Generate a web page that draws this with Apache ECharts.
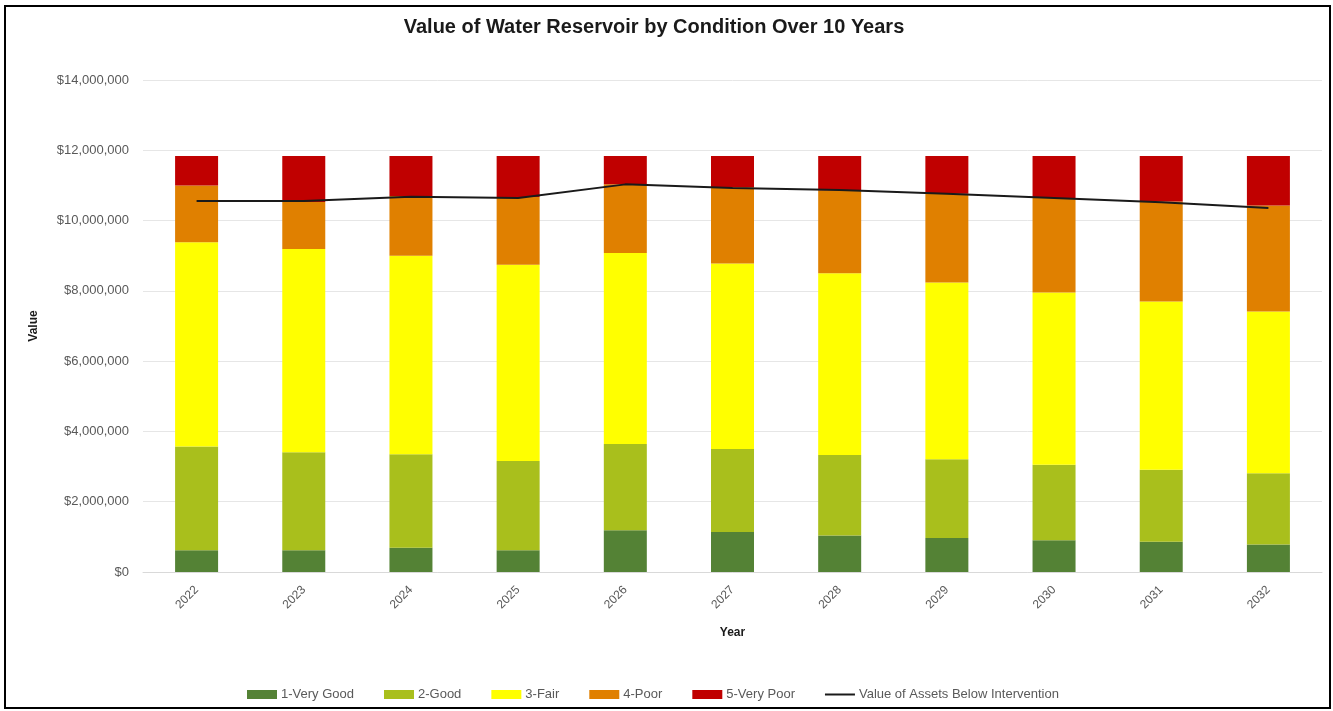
<!DOCTYPE html>
<html>
<head>
<meta charset="utf-8">
<script src="https://cdn.jsdelivr.net/npm/echarts@6/dist/echarts.min.js"></script>
<style>
  html, body { margin: 0; padding: 0; background: #fff; }
  #chart { width: 1333px; height: 711px; }
</style>
</head>
<body>
<div id="chart"></div>
<script>
// data (dollars)
const years = ['2022', '2023', '2024', '2025', '2026', '2027', '2028', '2029', '2030', '2031', '2032'];
const veryGood = [620000, 620000, 690000, 620000, 1190000, 1140000, 1040000, 970000, 905000, 860000, 780000];
const good = [2950000, 2790000, 2660000, 2540000, 2450000, 2360000, 2290000, 2240000, 2145000, 2050000, 2030000];
const fair = [5810000, 5780000, 5650000, 5580000, 5440000, 5280000, 5170000, 5030000, 4900000, 4790000, 4600000];
const poor = [1620000, 1340000, 1700000, 1930000, 1950000, 2170000, 2360000, 2520000, 2690000, 2840000, 3020000];
const veryPoor = [840000, 1310000, 1140000, 1170000, 810000, 890000, 980000, 1080000, 1200000, 1300000, 1410000];
const belowIntervention = [10560000, 10560000, 10680000, 10640000, 11030000, 10930000, 10870000, 10760000, 10640000, 10520000, 10360000];

const font = "'Liberation Sans', sans-serif";
const labelColor = '#595959';

const chart = echarts.init(document.getElementById('chart'));

function barSeries(name, data, color) {
  return {
    name: name,
    type: 'bar',
    stack: 'total',
    barWidth: 43,
    data: data,
    itemStyle: { color: color },
    emphasis: { disabled: true }
  };
}

chart.setOption({
  animation: false,
  textStyle: { fontFamily: font },
  title: {
    text: 'Value of Water Reservoir by Condition Over 10 Years',
    left: 649,
    textAlign: 'center',
    top: 12,
    textStyle: { fontSize: 20, fontWeight: 'bold', color: '#1a1a1a', fontFamily: font }
  },
  graphic: [{
    type: 'rect',
    shape: { x: 5, y: 6, width: 1325, height: 702 },
    style: { fill: 'none', stroke: '#000', lineWidth: 2 },
    silent: true,
    z: -1
  }],
  legend: {
    top: 683,
    left: 242,
    itemWidth: 30,
    itemHeight: 9,
    itemGap: 30,
    textStyle: { fontSize: 13, color: labelColor, fontFamily: font, padding: [0, 0, 0, -1] },
    data: [
      { name: '1-Very Good', icon: 'rect' },
      { name: '2-Good', icon: 'rect' },
      { name: '3-Fair', icon: 'rect' },
      { name: '4-Poor', icon: 'rect' },
      { name: '5-Very Poor', icon: 'rect' },
      { name: 'Value of Assets Below Intervention', icon: 'path://M0,0 L30,0 L30,2 L0,2 Z' }
    ]
  },
  grid: { left: 143, right: 11, top: 80, bottom: 139 },
  xAxis: {
    type: 'category',
    data: years,
    name: 'Year',
    nameLocation: 'middle',
    nameGap: 55,
    nameTextStyle: { fontSize: 12, fontWeight: 'bold', color: '#1a1a1a', fontFamily: font },
    axisTick: { show: false },
    axisLine: { lineStyle: { color: '#d9d9d9' } },
    axisLabel: { rotate: 45, fontSize: 12, color: labelColor, margin: 16 }
  },
  yAxis: {
    type: 'value',
    min: 0,
    max: 14000000,
    interval: 2000000,
    name: 'Value',
    nameLocation: 'middle',
    nameGap: 103,
    nameTextStyle: { fontSize: 12, fontWeight: 'bold', color: '#1a1a1a', fontFamily: font },
    axisLine: { show: false },
    axisTick: { show: false },
    splitLine: { lineStyle: { color: '#e6e6e6' } },
    axisLabel: {
      fontSize: 13,
      color: labelColor,
      margin: 14,
      formatter: v => '$' + v.toLocaleString('en-US')
    }
  },
  series: [
    barSeries('1-Very Good', veryGood, '#548235'),
    barSeries('2-Good', good, '#A9BF1C'),
    barSeries('3-Fair', fair, '#FFFF00'),
    barSeries('4-Poor', poor, '#E08000'),
    barSeries('5-Very Poor', veryPoor, '#C00000'),
    {
      name: 'Value of Assets Below Intervention',
      type: 'line',
      data: belowIntervention,
      symbol: 'none',
      lineStyle: { color: '#1a1a1a', width: 2 },
      itemStyle: { color: '#1a1a1a' },
      z: 5
    }
  ]
});
</script>
</body>
</html>
